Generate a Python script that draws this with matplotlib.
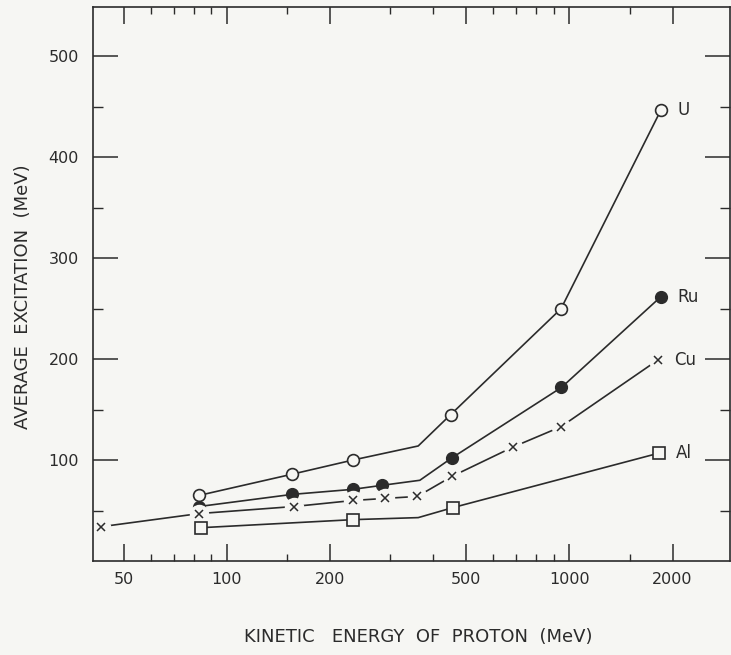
import numpy as np
import matplotlib.pyplot as plt
from matplotlib.ticker import FixedLocator, NullFormatter

# ---- data ----
# marker points (kinetic energy MeV, average excitation MeV)
u_x = [83, 155, 233, 450, 945, 1850]
u_y = [65, 86, 100, 145, 250, 447]
ru_x = [83, 155, 233, 284, 453, 948, 1850]
ru_y = [54, 66, 71, 75, 102, 172, 262]
cu_x = [43, 83, 157, 234, 289, 360, 455, 685, 944, 1808]
cu_y = [34, 47, 54, 60, 62, 64, 84, 113, 133, 199]
al_x = [84, 234, 458, 1829]
al_y = [33, 41, 53, 107]

# extra line vertices (kink near 360 MeV, no marker)
u_kink = (362, 114)
ru_kink = (366, 80)
al_kink = (362, 43)

labels = ['U', 'Ru', 'Cu', 'Al']

xticks = [50, 100, 200, 500, 1000, 2000]
xminor = [60, 70, 80, 90, 150, 300, 400, 600, 700, 800, 900, 1500]
yticks = [100, 200, 300, 400, 500]
yminor = [50, 150, 250, 350, 450, 550]

ink = '#2b2b2b'
paper = '#f6f6f3'

fig = plt.figure(figsize=(7.31, 6.55), dpi=100, facecolor=paper)
ax = fig.add_axes([0.1272, 0.1435, 0.872, 0.8458], facecolor=paper)


def with_kink(xs, ys, k):
    pts = sorted(list(zip(xs, ys)) + [k])
    return [p[0] for p in pts], [p[1] for p in pts]


# U - open circles
lx, ly = with_kink(u_x, u_y, u_kink)
ax.plot(lx, ly, color=ink, lw=1.2)
ax.plot(u_x, u_y, ls='none', marker='o', ms=8.5, mfc=paper, mec=ink, mew=1.2)

# Ru - filled circles
lx, ly = with_kink(ru_x, ru_y, ru_kink)
ax.plot(lx, ly, color=ink, lw=1.2)
ax.plot(ru_x, ru_y, ls='none', marker='o', ms=8.5, mfc=ink, mec=ink)

# Cu - x marks with gaps in the line
ax.plot(cu_x, cu_y, color=ink, lw=1.2)
ax.plot(cu_x, cu_y, ls='none', marker='o', ms=14, mfc=paper, mec='none')
ax.plot(cu_x, cu_y, ls='none', marker='x', ms=6, mec=ink, mew=1.1)

# Al - open squares
lx, ly = with_kink(al_x, al_y, al_kink)
ax.plot(lx, ly, color=ink, lw=1.2)
ax.plot(al_x, al_y, ls='none', marker='s', ms=8.5, mfc=paper, mec=ink, mew=1.2)

# end labels
ends = [(u_x[-1], u_y[-1]), (ru_x[-1], ru_y[-1]), (cu_x[-1], cu_y[-1]), (al_x[-1], al_y[-1])]
for lab, (ex, ey) in zip(labels, ends):
    ax.annotate(lab, (ex, ey), xytext=(12, 0), textcoords='offset points',
                va='center', ha='left', fontsize=12, color=ink)

ax.set_xscale('log')
ax.set_xlim(40.7, 2950)
ax.set_ylim(0, 549)

ax.xaxis.set_major_locator(FixedLocator(xticks))
ax.xaxis.set_minor_locator(FixedLocator(xminor))
ax.xaxis.set_minor_formatter(NullFormatter())
ax.set_xticklabels([str(t) for t in xticks])
ax.yaxis.set_major_locator(FixedLocator(yticks))
ax.yaxis.set_minor_locator(FixedLocator(yminor))

ax.tick_params(axis='x', which='major', direction='in', length=12, width=1.1,
               top=True, labelsize=11.5, colors=ink, pad=8)
ax.tick_params(axis='x', which='minor', direction='in', length=5, width=1.0, top=True, colors=ink)
ax.tick_params(axis='y', which='major', direction='in', length=18, width=1.1,
               right=True, labelsize=11.5, colors=ink, pad=10)
ax.tick_params(axis='y', which='minor', direction='in', length=7, width=1.0, right=True, colors=ink)
for s in ax.spines.values():
    s.set_color(ink)
    s.set_linewidth(1.2)

fig.text(0.572, 0.028, 'KINETIC   ENERGY  OF  PROTON  (MeV)', ha='center', va='center',
         fontsize=13, color=ink)
fig.text(0.032, 0.547, 'AVERAGE  EXCITATION  (MeV)', ha='center', va='center',
         rotation=90, fontsize=13, color=ink)

fig.savefig('out.png', dpi=100, facecolor=paper)
